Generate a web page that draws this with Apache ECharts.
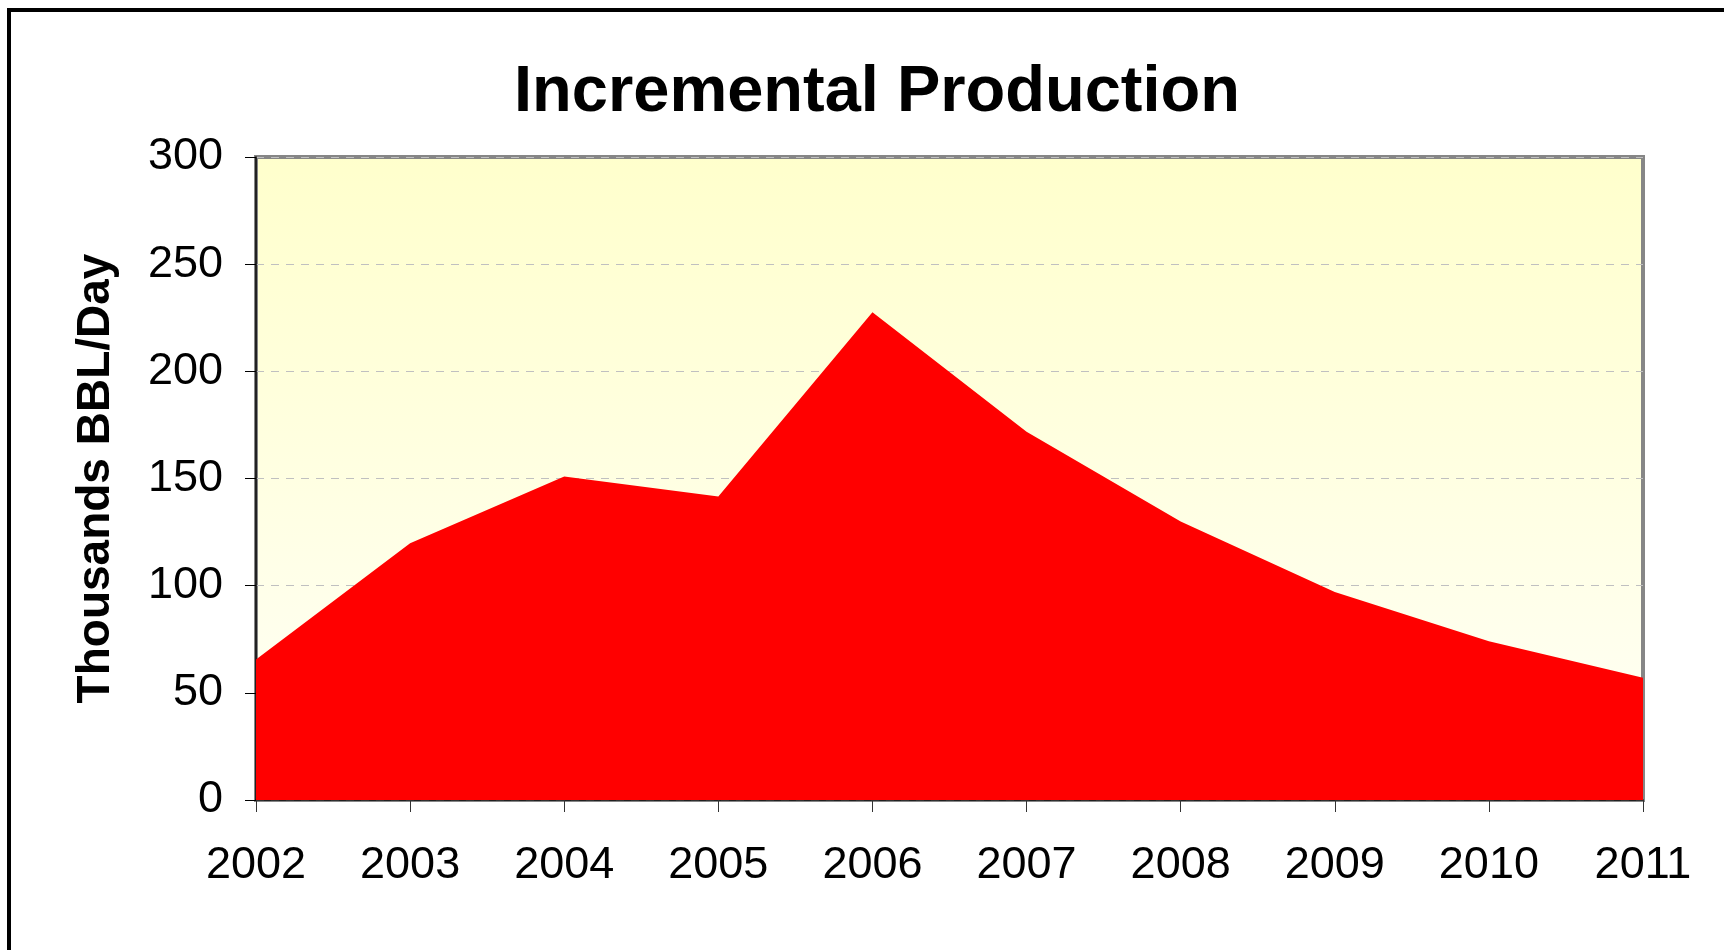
<!DOCTYPE html>
<html>
<head>
<meta charset="utf-8">
<title>Incremental Production</title>
<script src="https://cdn.jsdelivr.net/npm/echarts@6/dist/echarts.min.js"></script>
<style>
    html, body { margin: 0; padding: 0; background: #fff; }
    #chart { width: 1724px; height: 950px; }
</style>
</head>
<body>
<div id="chart"></div>
<script>
var years = ['2002', '2003', '2004', '2005', '2006', '2007', '2008', '2009', '2010', '2011'];
// thousands of barrels per day
var production = [65.6, 119.8, 150.9, 141.6, 227.6, 171.8, 129.9, 97, 74.1, 57];
var yTicks = [0, 50, 100, 150, 200, 250, 300];

var font = 'Liberation Sans, Arial, sans-serif';

function fillChart(elementName, option) {
    var dataChart = echarts.init(document.getElementById(elementName));
    if (option && typeof option === "object") {
        dataChart.setOption(option, true);
    }
}

var option = {
    animation: false,
    backgroundColor: '#ffffff',
    title: {
        text: 'Incremental Production',
        left: 872,
        textAlign: 'center',
        top: 56,
        textStyle: { fontFamily: font, fontSize: 65, fontWeight: 'bold', color: '#000' }
    },
    graphic: [{
        type: 'rect',
        shape: { x: 9, y: 10, width: 1800, height: 1000 },
        style: { fill: 'none', stroke: '#000', lineWidth: 4 },
        silent: true
    }],
    grid: {
        left: 256,
        right: 81,
        top: 157,
        bottom: 150,
        show: true,
        borderColor: '#868686',
        borderWidth: 4,
        backgroundColor: new echarts.graphic.LinearGradient(0, 0, 0, 1, [
            { offset: 0, color: '#ffffcc' },
            { offset: 1, color: '#fffff8' }
        ])
    },
    xAxis: {
        type: 'category',
        data: years,
        boundaryGap: false,
        axisLine: { lineStyle: { color: '#000', width: 1.5 } },
        axisTick: { show: true, length: 12, lineStyle: { color: '#333' } },
        axisLabel: { fontFamily: font, fontSize: 45, color: '#000', margin: 43 }
    },
    yAxis: {
        type: 'value',
        min: yTicks[0],
        max: yTicks[yTicks.length - 1],
        interval: 50,
        name: 'Thousands BBL/Day',
        nameLocation: 'middle',
        nameGap: 137,
        nameTextStyle: { fontFamily: font, fontSize: 46, fontWeight: 'bold', color: '#000' },
        axisLine: { show: true, lineStyle: { color: '#000', width: 1.5 } },
        axisTick: { show: true, length: 11, lineStyle: { color: '#000' } },
        axisLabel: { fontFamily: font, fontSize: 45, color: '#000', margin: 33 },
        splitLine: { show: true, lineStyle: { color: '#c0c0c0', type: [8, 7], width: 1 } }
    },
    series: [{
        type: 'line',
        data: production,
        symbol: 'none',
        lineStyle: { width: 0 },
        itemStyle: { color: '#ff0000' },
        areaStyle: { color: '#ff0000', opacity: 1 },
        z: 1
    }]
};

fillChart('chart', option);
</script>
</body>
</html>
